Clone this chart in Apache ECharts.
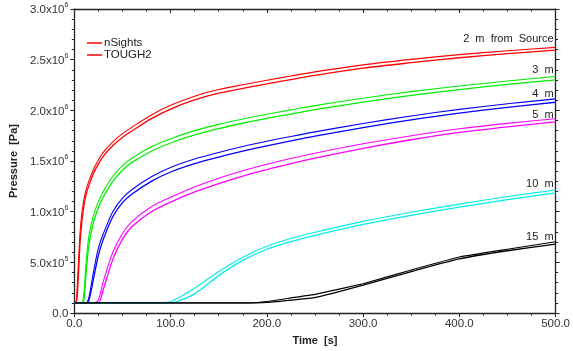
<!DOCTYPE html>
<html>
<head>
<meta charset="utf-8">
<script src="https://cdn.jsdelivr.net/npm/echarts@6/dist/echarts.min.js"></script>
<style>html,body{margin:0;padding:0;background:#fff;}#c{width:573px;height:351px;}</style>
</head>
<body>
<div id="c"></div>
<script>
// Time [s]
const timeS = [0,2,4,6,8,10,12,15,20,25,30,40,50,60,80,100,125,150,175,200,225,250,300,350,400,450,500];
// Pressure in units of 1e6 Pa
const redNS   = [0.1,0.12,0.45,0.80,1.00,1.12,1.21,1.30,1.42,1.51,1.585,1.69,1.77,1.835,1.955,2.05,2.14,2.205,2.253,2.297,2.339,2.38,2.449,2.503,2.55,2.588,2.621];
const redT2   = [0.1,0.1,0.33,0.70,0.92,1.06,1.16,1.255,1.38,1.47,1.547,1.653,1.733,1.797,1.918,2.013,2.103,2.169,2.217,2.261,2.304,2.345,2.416,2.47,2.519,2.559,2.594];
const greenNS = [0.1,0.1,0.1,0.1,0.1,0.2,0.47,0.75,0.97,1.10,1.20,1.35,1.455,1.53,1.64,1.72,1.80,1.862,1.915,1.962,2.005,2.047,2.12,2.185,2.24,2.29,2.334];
const greenT2 = [0.1,0.1,0.1,0.1,0.1,0.13,0.36,0.66,0.90,1.04,1.145,1.30,1.41,1.487,1.597,1.678,1.758,1.82,1.873,1.92,1.964,2.007,2.081,2.148,2.205,2.256,2.301];
const blueNS  = [0.1,0.1,0.1,0.1,0.1,0.1,0.1,0.15,0.41,0.64,0.78,1.00,1.135,1.22,1.345,1.437,1.52,1.585,1.643,1.695,1.743,1.788,1.87,1.945,2.01,2.065,2.113];
const blueT2  = [0.1,0.1,0.1,0.1,0.1,0.1,0.1,0.12,0.34,0.57,0.725,0.95,1.09,1.175,1.30,1.392,1.475,1.539,1.597,1.65,1.699,1.746,1.83,1.907,1.973,2.03,2.08];
const magNS   = [0.1,0.1,0.1,0.1,0.1,0.1,0.1,0.1,0.1,0.13,0.31,0.60,0.785,0.905,1.05,1.143,1.245,1.33,1.404,1.468,1.525,1.577,1.67,1.75,1.818,1.872,1.918];
const magT2   = [0.1,0.1,0.1,0.1,0.1,0.1,0.1,0.1,0.1,0.1,0.23,0.53,0.73,0.855,1.00,1.095,1.195,1.278,1.352,1.416,1.474,1.528,1.625,1.71,1.782,1.838,1.886];
const cyanNS  = [0.1,0.1,0.1,0.1,0.1,0.1,0.1,0.1,0.1,0.1,0.1,0.1,0.1,0.1,0.1,0.115,0.245,0.41,0.552,0.66,0.735,0.797,0.905,0.995,1.075,1.15,1.215];
const cyanT2  = [0.1,0.1,0.1,0.1,0.1,0.1,0.1,0.1,0.1,0.1,0.1,0.1,0.1,0.1,0.1,0.1,0.19,0.37,0.52,0.63,0.705,0.767,0.875,0.965,1.045,1.12,1.186];
const blackNS = [0.1,0.1,0.1,0.1,0.1,0.1,0.1,0.1,0.1,0.1,0.1,0.1,0.1,0.1,0.1,0.1,0.1,0.1,0.1,0.115,0.15,0.185,0.29,0.425,0.553,0.63,0.704];
const blackT2 = [0.1,0.1,0.1,0.1,0.1,0.1,0.1,0.1,0.1,0.1,0.1,0.1,0.1,0.1,0.1,0.1,0.1,0.1,0.1,0.105,0.128,0.152,0.275,0.41,0.535,0.615,0.681];

const distLabels = ['2  m  from  Source','3  m','4  m','5  m','10  m','15  m'];
const legendNames = ['nSights','TOUGH2'];
const xTickLabels = ['0.0','100.0','200.0','300.0','400.0','500.0'];
const yTickMant = ['0.0','5.0','1.0','1.5','2.0','2.5','3.0'];
const yTickExp  = ['','5','6','6','6','6','6'];

const FONT = 'Liberation Sans, Arial, sans-serif';
const groups = [
  {ns: redNS, t2: redT2, color: '#ff0000', lab: distLabels[0], dy: -8, sm: 0.3},
  {ns: greenNS, t2: greenT2, color: '#00ee00', lab: distLabels[1], dy: -7, sm: 0.3},
  {ns: blueNS, t2: blueT2, color: '#0000ff', lab: distLabels[2], dy: -5, sm: 0.3},
  {ns: magNS, t2: magT2, color: '#ff00ff', lab: distLabels[3], dy: -4, sm: 0.3},
  {ns: cyanNS, t2: cyanT2, color: '#00eeee', lab: distLabels[4], dy: -6, sm: 0.2},
  {ns: blackNS, t2: blackT2, color: '#000000', lab: distLabels[5], dy: -5, sm: 0.1}
];
const pairs = arr => timeS.map((t, i) => [t, arr[i]]);
const series = [];
groups.forEach((g, gi) => {
  const last = timeS.length - 1;
  series.push({
    name: gi === 0 ? legendNames[0] : g.lab + ' nSights',
    type: 'line', data: pairs(g.ns), symbol: 'none', smooth: g.sm,
    lineStyle: {color: g.color, width: 1.1}, itemStyle: {color: g.color},
    animation: false, z: 3,
    markPoint: {
      symbol: 'circle', symbolSize: 0, silent: true, animation: false,
      data: [{coord: [timeS[last], g.ns[last]]}],
      label: {show: true, position: 'left', distance: 2, offset: [0, g.dy],
        formatter: g.lab, color: '#222', fontSize: 11, fontFamily: FONT}
    }
  });
  series.push({
    name: gi === 0 ? legendNames[1] : g.lab + ' TOUGH2',
    type: 'line', data: pairs(g.t2), symbol: 'none', smooth: g.sm,
    lineStyle: {color: g.color, width: 1.3}, itemStyle: {color: g.color},
    animation: false, z: 3
  });
});

const axisLineStyle = {color: '#222', width: 1.3};
const yLabelFmt = v => {
  const i = Math.round(v / 0.5);
  if (!yTickExp[i]) return '{b|' + yTickMant[i] + '}';
  return '{b|' + yTickMant[i] + 'x10}{e|' + yTickExp[i] + '}';
};

const chart = echarts.init(document.getElementById('c'), null, {renderer: 'canvas'});
chart.setOption({
  backgroundColor: '#fff',
  animation: false,
  grid: {left: 68, right: 15, top: 9, bottom: 28, containLabel: false},
  legend: {
    data: legendNames, orient: 'vertical', left: 82, top: 32,
    icon: 'rect', itemWidth: 15, itemHeight: 1.5, itemGap: 0,
    textStyle: {fontSize: 11.5, lineHeight: 11.5, color: '#222', fontFamily: FONT, padding: [0,0,0,-3]}
  },
  xAxis: [{
    type: 'value', min: 0, max: 500, interval: 100, position: 'bottom',
    name: 'Time  [s]', nameLocation: 'middle', nameGap: 13,
    nameTextStyle: {fontWeight: 'bold', fontSize: 11, color: '#222', fontFamily: FONT},
    axisLine: {show: true, onZero: false, lineStyle: axisLineStyle},
    axisTick: {show: true, inside: false, length: 4, lineStyle: {color: '#222'}},
    minorTick: {show: true, splitNumber: 4, length: 2.5, lineStyle: {color: '#222'}},
    axisLabel: {margin: 5, fontSize: 11.5, color: '#333', fontFamily: FONT,
      formatter: v => xTickLabels[Math.round(v / 100)]},
    splitLine: {show: false}
  }, {
    type: 'value', min: 0, max: 500, interval: 100, position: 'top',
    axisLine: {show: true, onZero: false, lineStyle: axisLineStyle},
    axisTick: {show: true, inside: true, length: 4, lineStyle: {color: '#222'}},
    minorTick: {show: true, splitNumber: 4, length: 2.5, lineStyle: {color: '#222'}},
    axisLabel: {show: false}, splitLine: {show: false}
  }],
  yAxis: [{
    type: 'value', min: 0, max: 3, interval: 0.5, position: 'left',
    name: 'Pressure  [Pa]', nameLocation: 'middle', nameGap: 46,
    nameTextStyle: {fontWeight: 'bold', fontSize: 11, color: '#222', fontFamily: FONT},
    axisLine: {show: true, onZero: false, lineStyle: axisLineStyle},
    axisTick: {show: true, inside: false, length: 4, lineStyle: {color: '#222'}},
    minorTick: {show: true, splitNumber: 5, length: 2.5, lineStyle: {color: '#222'}},
    axisLabel: {margin: 6, color: '#333', fontFamily: FONT, formatter: yLabelFmt,
      rich: {
        b: {fontSize: 11.5, color: '#333', fontFamily: FONT, lineHeight: 14, verticalAlign: 'bottom'},
        e: {fontSize: 7, color: '#333', fontFamily: FONT, lineHeight: 14, verticalAlign: 'top'}
      }},
    splitLine: {show: false}
  }, {
    type: 'value', min: 0, max: 3, interval: 0.5, position: 'right',
    axisLine: {show: true, onZero: false, lineStyle: axisLineStyle},
    axisTick: {show: true, inside: false, length: 4, lineStyle: {color: '#222'}},
    minorTick: {show: true, splitNumber: 5, length: 2.5, lineStyle: {color: '#222'}},
    axisLabel: {show: false}, splitLine: {show: false}
  }],
  series: series
});
</script>
</body>
</html>
